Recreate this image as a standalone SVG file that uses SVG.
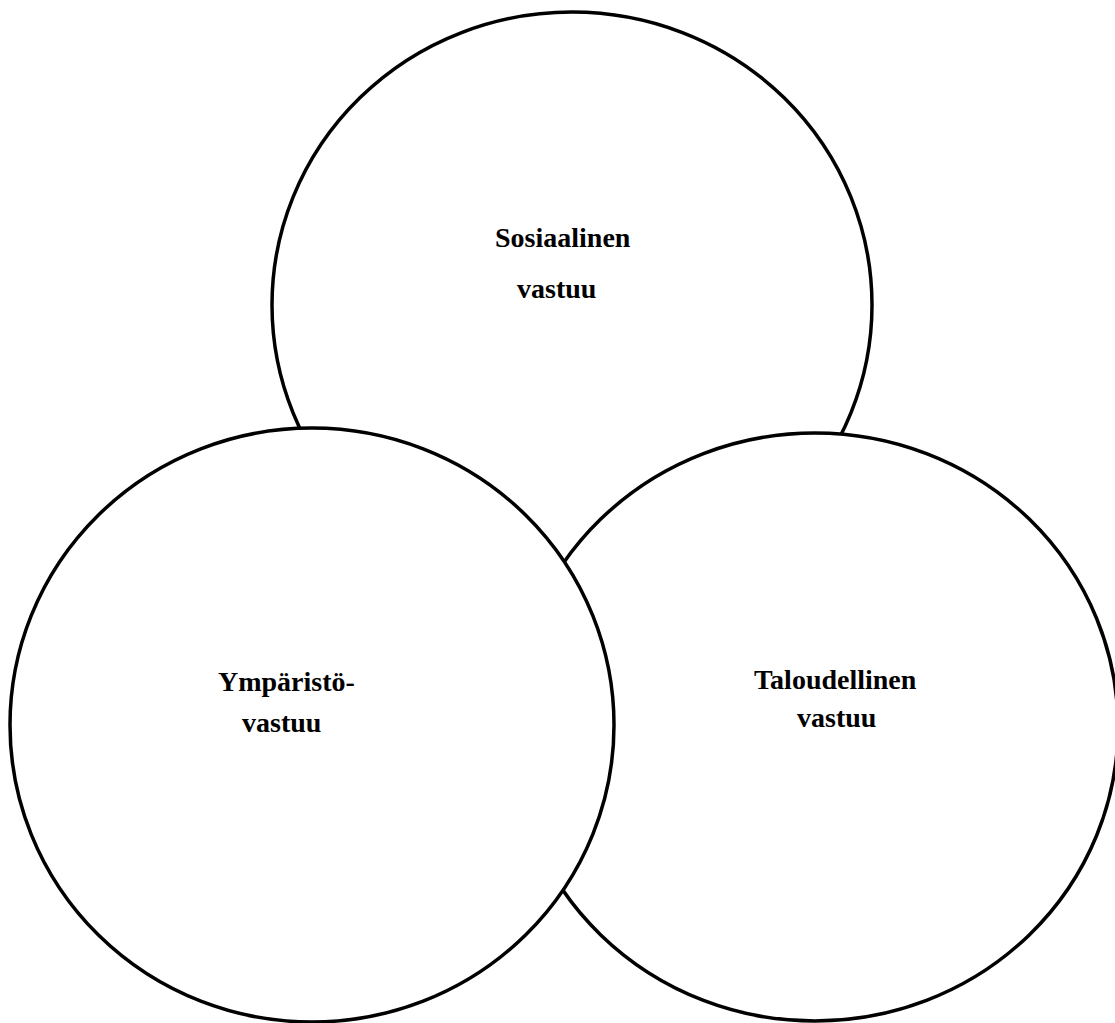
<svg xmlns="http://www.w3.org/2000/svg" width="1115" height="1023" viewBox="0 0 1115 1023">
<style>
.c{fill:#fff;stroke:#000;stroke-width:3.5}
.t{font-family:"Liberation Serif","Times New Roman",serif;font-weight:bold;font-size:28px;fill:#000}
</style>
<rect width="1115" height="1023" fill="#fff"/>
<g id="connectors"></g>
<g id="sosiaalinen">
<ellipse class="c" cx="572" cy="305" rx="300" ry="293"/>
<text class="t" x="495" y="247">Sosiaalinen</text>
<text class="t" x="517" y="298">vastuu</text>
</g>
<g id="taloudellinen">
<ellipse class="c" cx="815" cy="727" rx="303" ry="294"/>
<text class="t" x="754" y="689">Taloudellinen</text>
<text class="t" x="797" y="727">vastuu</text>
</g>
<g id="ymparisto">
<ellipse class="c" cx="312" cy="725" rx="302" ry="297"/>
<text class="t" x="218" y="691">Ympäristö-</text>
<text class="t" x="242" y="732">vastuu</text>
</g>
</svg>
